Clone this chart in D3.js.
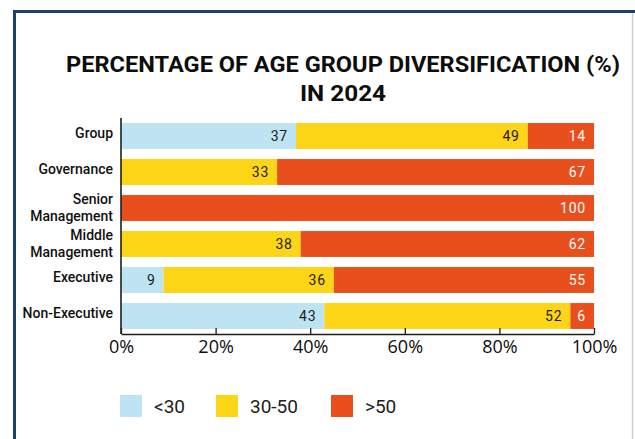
<!DOCTYPE html>
<html>
<head>
<meta charset="utf-8">
<script src="https://cdn.jsdelivr.net/npm/d3@7"></script>
<style>
  html, body { margin: 0; padding: 0; background: #ffffff; }
  svg { display: block; }
</style>
</head>
<body>
<svg id="chart" width="635" height="439"></svg>
<script>
// Age group shares per staff level, in percent
const categories = ["Group", "Governance", "Senior Management", "Middle Management", "Executive", "Non-Executive"];
const under30 = [37, 0, 0, 0, 9, 43];
const age30to50 = [49, 33, 0, 38, 36, 52];
const over50 = [14, 67, 100, 62, 55, 6];
const seriesNames = ["<30", "30-50", ">50"];
const seriesColors = ["#bee4f3", "#fdd517", "#e94f1d"];
const xTicks = [0, 20, 40, 60, 80, 100];
const titleLines = ["PERCENTAGE OF AGE GROUP DIVERSIFICATION (%)", "IN 2024"];

const svg = d3.select("#chart");

// outer frame
svg.append("rect").attr("x", 0).attr("y", 0).attr("width", 635).attr("height", 439).attr("fill", "#fff");
svg.append("line").attr("x1", 632.5).attr("x2", 632.5).attr("y1", 12).attr("y2", 439)
  .attr("stroke", "#c9cfdb").attr("stroke-width", 1.5);
svg.append("rect").attr("x", 13).attr("y", 10).attr("width", 622).attr("height", 3).attr("fill", "#1f4169");
svg.append("rect").attr("x", 13).attr("y", 10).attr("width", 3).attr("height", 429).attr("fill", "#1f4169");

// title
const titleFont = "Roboto, 'Liberation Sans', sans-serif";
const titleWidths = [554, 86];
titleLines.forEach((t, i) => {
  svg.append("text")
    .attr("x", 343).attr("y", 72 + i * 29)
    .attr("text-anchor", "middle")
    .attr("font-family", titleFont).attr("font-weight", 700).attr("font-size", 22)
    .attr("fill", "#0d0d0d")
    .attr("textLength", titleWidths[i]).attr("lengthAdjust", "spacingAndGlyphs")
    .text(t);
});

// scales
const x = d3.scaleLinear().domain([0, 100]).range([121, 594]).clamp(true);
const y = d3.scaleBand().domain(categories).range([118, 334]).paddingInner(0.28).paddingOuter(0.14);

// stacked rows
const rows = categories.map((c, i) => ({ cat: c, "<30": under30[i], "30-50": age30to50[i], ">50": over50[i] }));
const stacked = d3.stack().keys(seriesNames)(rows);

const layers = svg.append("g").selectAll("g").data(stacked).join("g")
  .attr("fill", (d, i) => seriesColors[i]);

layers.selectAll("rect").data(d => d).join("rect")
  .attr("x", d => x(d[0]))
  .attr("y", d => y(d.data.cat))
  .attr("width", d => Math.max(0, x(d[1]) - x(d[0])))
  .attr("height", y.bandwidth());

// value labels, right-aligned inside each segment
const labelFont = "Roboto, 'DejaVu Sans', sans-serif";
stacked.forEach((layer, si) => {
  svg.append("g").selectAll("text").data(layer.filter(d => d[1] - d[0] > 0)).join("text")
    .attr("x", d => x(d[1]) - 8)
    .attr("y", d => y(d.data.cat) + y.bandwidth() / 2 + 5)
    .attr("text-anchor", "end")
    .attr("font-family", labelFont).attr("font-size", 14)
    .attr("letter-spacing", 0.8)
    .attr("fill", si === 2 ? "#ffffff" : "#1d1d1b")
    .text(d => d.data[seriesNames[si]]);
});

// category labels
const catLines = {
  "Senior Management": ["Senior", "Management"],
  "Middle Management": ["Middle", "Management"]
};
const catG = svg.append("g");
categories.forEach(c => {
  const cy = y(c) + y.bandwidth() / 2;
  const lines = catLines[c] || [c];
  const t = catG.append("text")
    .attr("text-anchor", "end")
    .attr("font-family", labelFont).attr("font-weight", 500).attr("font-size", 14)
    .attr("fill", "#111");
  lines.forEach((l, j) => {
    const off = lines.length === 1 ? 1.5 : (j === 0 ? -4 : 13);
    t.append("tspan").attr("x", 113).attr("y", cy + off).text(l);
  });
});

// x axis with inward ticks
const xAxis = d3.axisBottom(x).tickValues(xTicks).tickSize(-6).tickSizeOuter(0).tickFormat(d => d + "%");
const gx = svg.append("g").attr("transform", "translate(0,334)").call(xAxis);
gx.select(".domain").attr("stroke", "#1d1d1b").attr("stroke-width", 1.6);
gx.selectAll(".tick line").attr("stroke", "#1d1d1b").attr("stroke-width", 1.3);
gx.selectAll(".tick text")
  .attr("y", 6)
  .attr("font-family", "'Open Sans', sans-serif").attr("font-weight", 500).attr("font-size", 18)
  .attr("fill", "#0d0d0d");

// y axis line
svg.append("line").attr("x1", 121).attr("x2", 121).attr("y1", 118).attr("y2", 334)
  .attr("stroke", "#1d1d1b").attr("stroke-width", 1.6);

// legend
const legendX = [120, 216, 331];
const lg = svg.append("g");
seriesNames.forEach((n, i) => {
  lg.append("rect").attr("x", legendX[i]).attr("y", 395).attr("width", 22).attr("height", 22)
    .attr("fill", seriesColors[i]);
  lg.append("text").attr("x", legendX[i] + 34).attr("y", 413)
    .attr("font-family", labelFont).attr("font-size", 19)
    .attr("fill", "#1d1d1b").text(n);
});
</script>
</body>
</html>
